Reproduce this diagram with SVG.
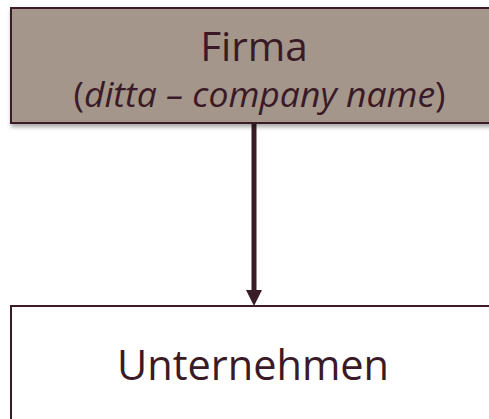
<svg xmlns="http://www.w3.org/2000/svg" width="489" height="419" viewBox="0 0 489 419">
<defs>
<style>
.box{stroke:#3a1c26;stroke-width:2}
.t{font-family:"Open Sans","Noto Sans",sans-serif;fill:#3a1a26;text-anchor:middle}
</style>
<filter id="sh" x="-10%" y="-10%" width="130%" height="140%">
<feDropShadow dx="1" dy="3" stdDeviation="2" flood-color="#000" flood-opacity="0.35"/>
</filter>
</defs>
<rect width="489" height="419" fill="#fff"/>
<g id="connectors">
<line x1="254" y1="124" x2="254" y2="290" stroke="#3a1c26" stroke-width="5"/>
<path d="M246,290 L262,290 L254,306 Z" fill="#3a1c26"/>
</g>
<g id="firma">
<rect class="box" x="11" y="8" width="490" height="115" fill="#a4968b" filter="url(#sh)"/>
<text class="t" x="254" y="61" font-size="40.5">Firma</text>
<text class="t" x="259.5" y="107" font-size="35.5">(<tspan font-style="italic">ditta – company name</tspan>)</text>
</g>
<g id="unternehmen">
<rect class="box" x="11" y="306" width="490" height="130" fill="#fff"/>
<text class="t" x="253" y="380" font-size="41.5">Unternehmen</text>
</g>
</svg>
